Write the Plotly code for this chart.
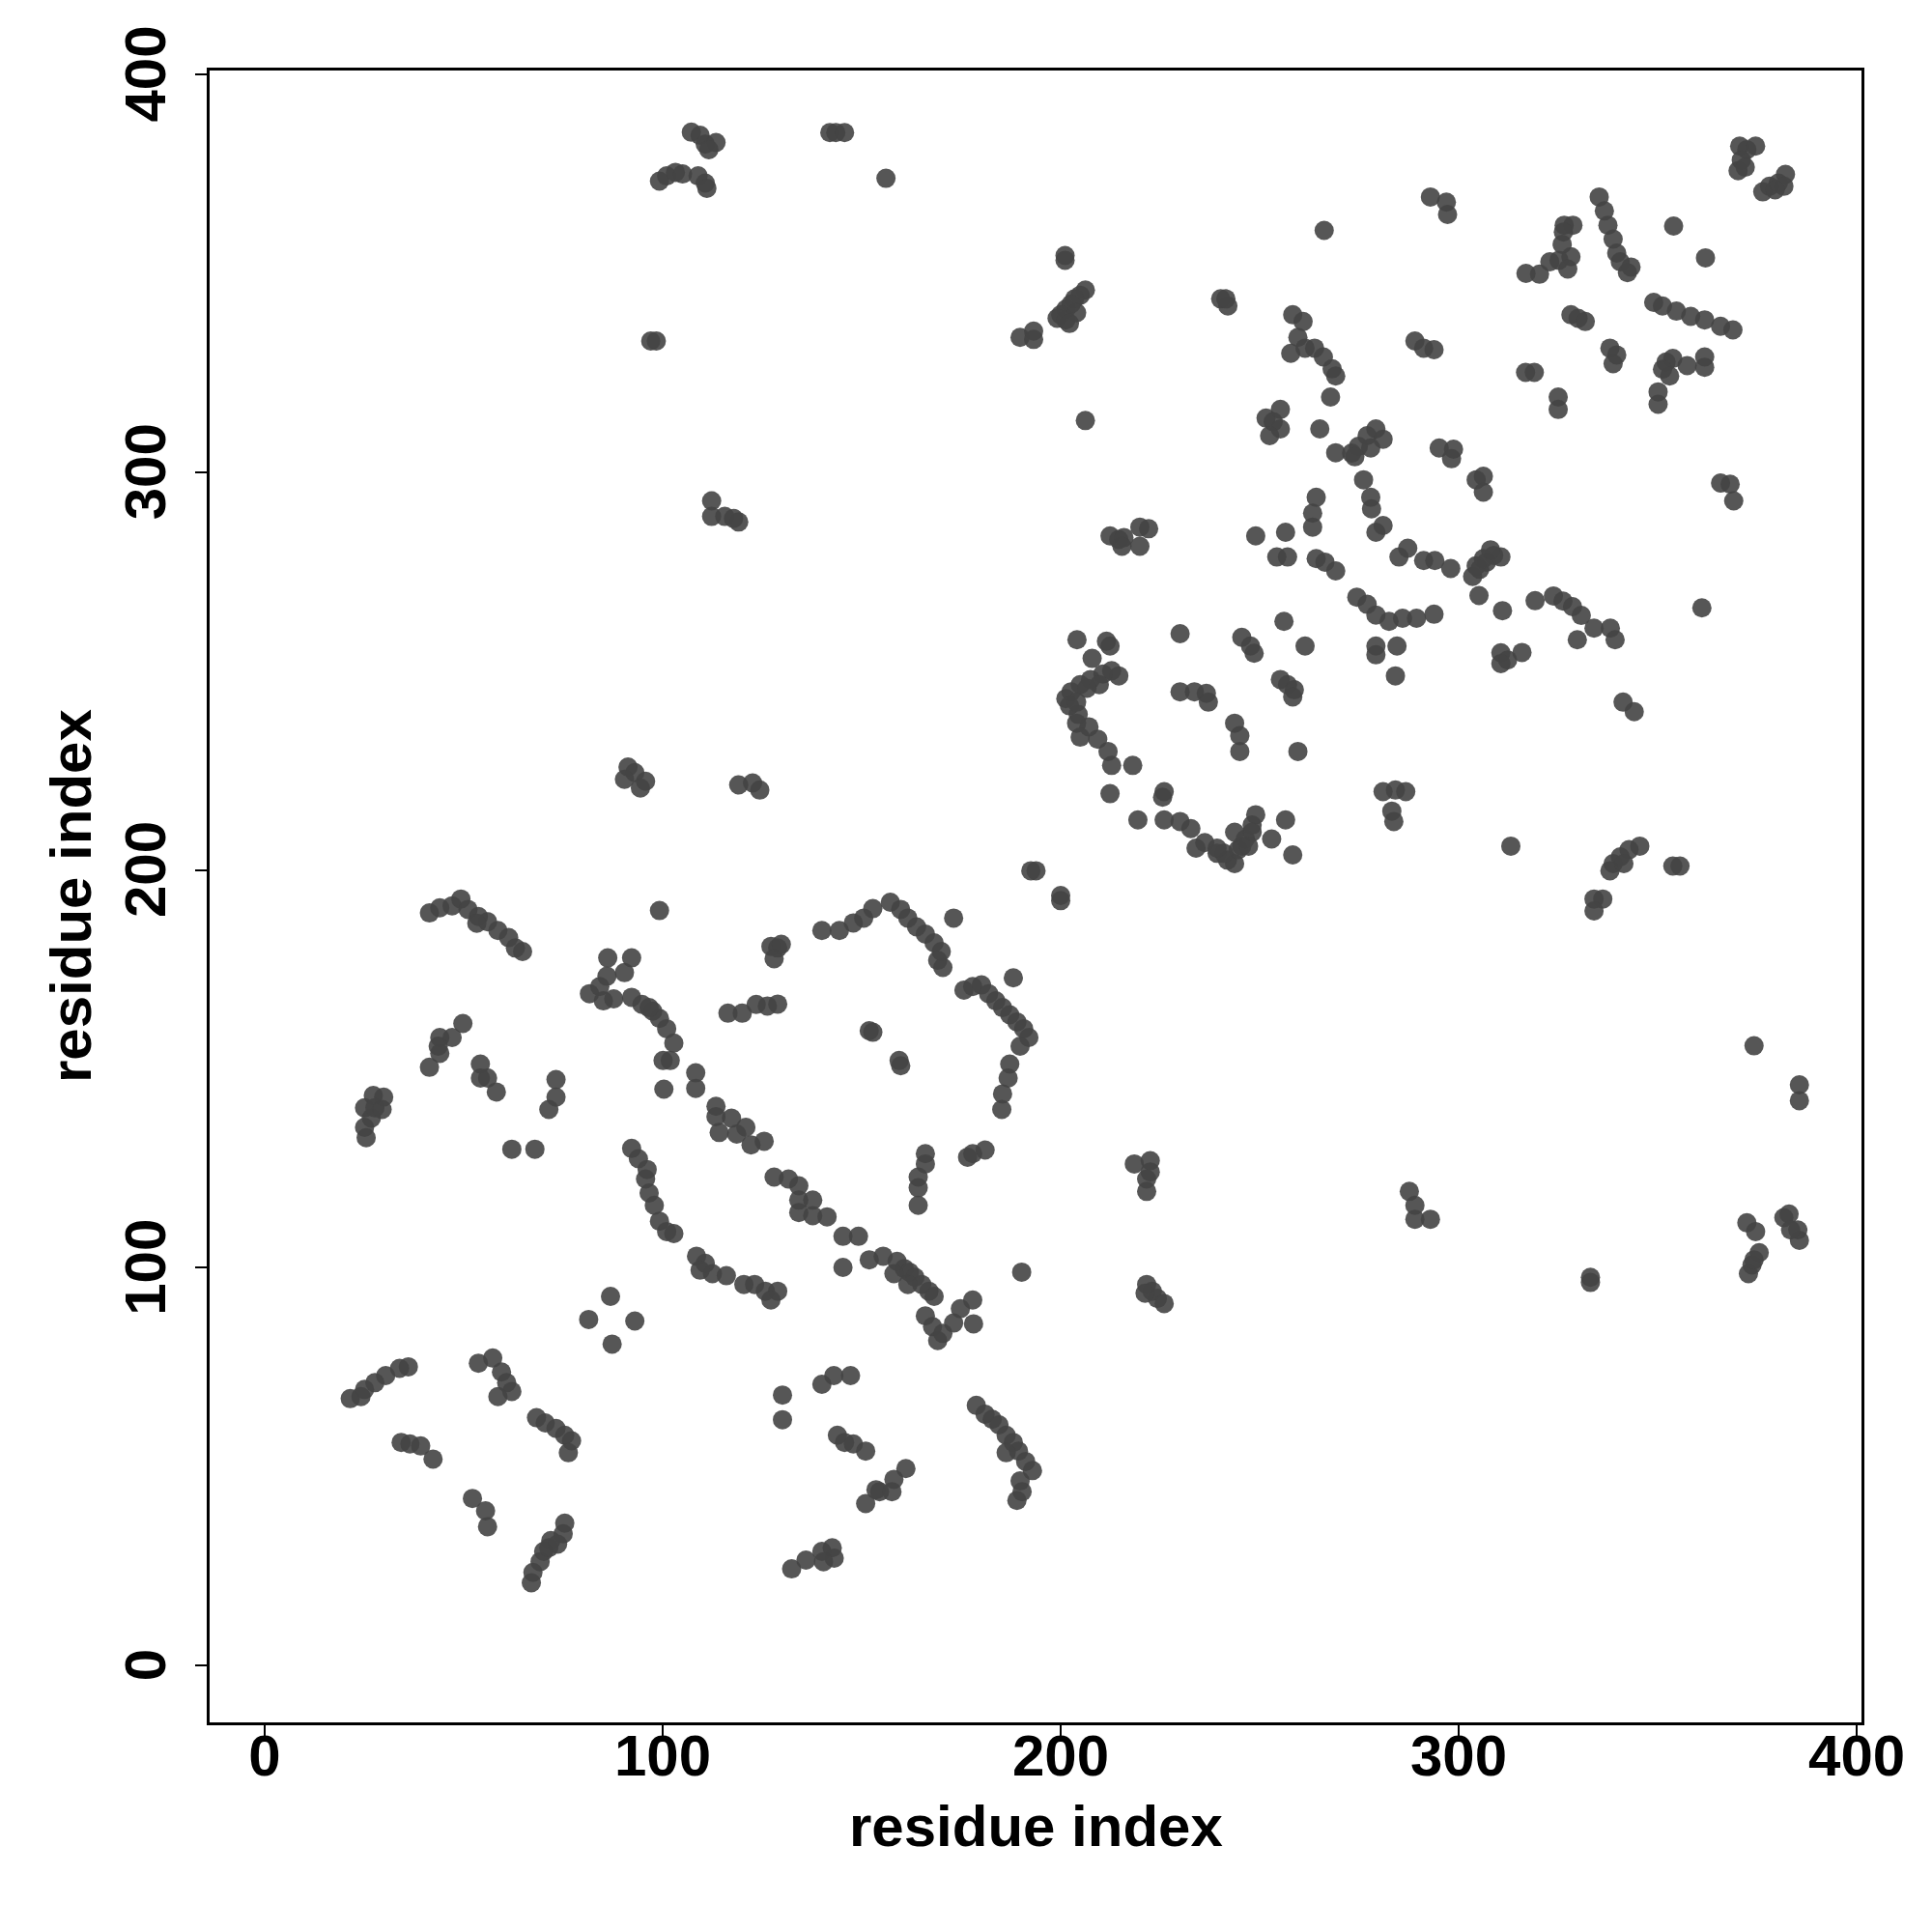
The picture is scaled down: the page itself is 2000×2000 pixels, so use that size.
import plotly.graph_objects as go

# residue pairs (i, j)
res_i = [
    107.2,109.4,110.7,113.4,111.6,
    99.2,101.0,103.2,105.0,108.9,110.7,111.1,
    97.0,98.4,
    112.3,112.3,115.6,119.1,117.8,
    142.0,143.5,145.7,
    156.1,
    201.1,201.1,
    206.2,204.9,203.5,202.6,201.3,200.0,199.1,201.3,204.0,202.2,
    189.8,193.2,193.2,
    206.2,
    240.2,242.0,241.5,
    258.3,260.9,259.6,257.8,261.4,263.8,266.0,268.2,269.1,267.8,
    251.6,253.4,255.2,255.2,252.5,
    212.4,214.6,215.9,219.9,222.1,219.9,215.4,
    249.0,
    256.5,254.3,257.0,
    370.6,372.4,374.6,371.0,370.2,372.0,
    376.4,378.1,380.3,382.1,381.7,379.5,
    292.9,296.9,297.2,
    266.2,
    335.3,336.6,337.5,338.8,339.7,340.6,342.4,343.3,
    326.5,328.7,326.3,326.0,328.2,325.2,322.9,320.3,316.9,327.4,
    354.0,
    362.0,
    349.0,351.2,354.7,358.3,361.8,365.8,368.9,
    328.2,330.0,331.8,
    338.0,339.7,338.8,
    352.1,353.8,357.4,361.8,361.8,353.0,351.2,
    350.1,350.1,
    316.8,319.0,
    325.0,325.0,
    365.8,368.2,369.1,
    289.0,291.2,293.8,
    265.1,
    273.1,274.8,277.0,279.2,281.0,277.9,273.9,
    269.1,
    276.1,
    277.9,278.1,
    279.2,281.0,
    264.2,263.3,263.3,
    295.1,298.7,298.2,
    304.4,306.2,306.2,
    285.0,287.2,
    291.2,294.0,298.0,
    303.5,305.3,307.0,308.8,310.6,304.4,306.2,308.0,
    305.1,
    311.0,
    319.2,
    323.8,326.2,328.6,330.8,334.0,338.1,339.3,329.8,
    361.1,
    264.2,266.4,269.1,
    274.4,277.0,279.2,
    282.5,285.9,289.4,293.8,
    91.3,93.0,95.7,94.4,90.4,
    119.1,122.6,124.4,
    41.4,44.0,47.1,49.3,51.1,53.7,56.0,58.6,61.3,64.8,63.0,53.3,
    99.2,
    86.2,92.2,
    81.6,84.2,86.0,87.7,90.4,85.1,
    92.2,94.8,97.5,99.2,101.0,102.8,101.9,100.1,96.6,
    108.3,108.3,
    100.3,
    116.4,120.0,123.5,
    113.4,113.4,117.3,114.2,120.9,122.2,118.6,
    92.2,93.9,96.1,
    49.8,47.1,44.0,44.0,43.6,41.4,
    54.2,56.0,58.2,54.2,
    73.2,73.2,71.4,
    27.3,29.9,25.1,26.8,25.1,25.5,27.7,29.5,
    62.1,67.9,
    204.1,
    212.4,211.5,
    230.0,
    245.5,247.7,248.6,
    256.1,
    261.4,
    255.2,257.0,258.7,258.3,
    230.0,233.6,236.6,237.1,
    243.7,245.0,245.0,
    259.6,
    207.9,212.8,214.6,210.6,207.5,204.9,202.6,201.3,202.2,204.4,204.0,207.1,204.9,209.3,211.9,212.8,218.1,209.7,206.6,204.0,
    212.4,
    225.6,226.0,
    219.4,
    226.0,230.0,232.7,236.2,239.3,241.9,243.7,234.0,
    244.6,246.4,248.1,249.0,248.1,245.5,243.7,
    247.2,241.0,239.3,
    253.0,
    256.5,
    258.3,
    193.8,192.5,200.0,200.0,
    140.0,144.4,147.9,150.5,152.8,157.2,159.8,161.6,163.8,166.0,168.2,170.0,170.4,169.1,
    173.1,
    188.1,
    175.7,177.9,180.1,181.9,183.7,185.4,187.2,189.0,190.7,192.0,189.8,187.2,186.8,185.4,185.2,
    151.9,152.8,
    159.4,159.8,
    128.9,126.3,127.2,128.9,128.0,129.8,
    125.5,
    166.0,166.0,
    177.9,181.0,176.6,
    218.5,222.5,
    279.2,279.2,284.5,
    284.1,
    310.6,312.3,315.9,310.6,
    341.3,344.1,
    281.0,284.1,286.7,283.2,283.7,
    313.1,
    338.8,340.6,342.8,345.5,338.0,341.5,
    353.8,355.6,
    334.0,336.2,334.0,
    374.2,
    385.6,385.6,
    95.7,96.6,97.9,99.2,101.0,102.8,
    108.5,110.7,112.5,116.0,120.4,123.1,109.4,
    86.9,93.0,81.4,87.3,
    21.5,25.1,27.7,30.4,33.9,36.1,24.2,
    53.7,57.3,59.5,60.8,62.1,58.6,
    68.3,70.5,73.2,75.4,77.1,76.3,
    34.3,36.5,39.2,42.3,
    52.2,55.5,56.0,
    75.4,75.0,71.9,70.1,69.2,67.4,67.0,71.4,73.6,
    128.0,131.6,134.2,134.2,137.7,134.2,137.7,141.3,
    145.3,149.2,
    145.3,
    125.8,128.9,127.2,
    164.2,164.2,164.2,
    221.6,221.6,222.5,
    190.2,
    151.9,155.4,158.9,160.7,162.0,163.4,165.1,166.9,168.2,158.1,161.6,
    166.0,167.8,169.1,170.4,173.1,174.8,177.9,178.1,
    221.6,223.0,224.3,226.0,221.2,
    140.0,143.0,147.2,
    130.1,130.1,
    143.9,147.9,151.0,145.7,
    161.1,158.1,154.5,151.0,153.6,157.6,
    132.4,136.0,140.0,142.6,143.1,140.4,
    178.8,181.0,182.8,184.5,186.3,188.1,189.4,191.2,192.9,189.8,190.3,189.0,186.3,
    287.6,289.0,289.0,292.9,
    333.1,333.1,
    372.4,374.6,375.5,373.7,372.8,374.2,
    381.7,383.0,385.2,385.6,383.4,
]

res_j = [
    385.5,384.7,382.5,382.9,381.1,
    373.2,374.5,375.4,375.0,374.5,372.7,371.4,
    333.0,333.0,
    292.8,288.9,288.9,287.5,288.4,
    385.4,385.4,385.4,
    373.9,
    354.5,353.3,
    345.8,344.5,343.6,342.3,341.0,339.6,338.7,338.3,340.1,337.4,
    333.9,335.5,333.4,
    313.0,
    343.6,341.8,343.6,
    339.6,337.9,333.9,329.9,331.2,331.2,329.0,326.0,324.2,318.9,
    313.6,312.7,315.8,310.9,309.2,
    284.0,283.1,283.6,286.2,285.8,281.4,281.4,
    284.0,
    284.9,278.7,278.7,
    382.0,381.1,382.0,378.5,375.8,376.7,
    370.5,371.9,372.7,374.9,371.9,371.0,
    369.2,367.9,364.8,
    360.8,
    369.2,365.7,362.1,358.6,355.1,352.9,350.2,351.6,
    362.1,362.1,360.4,357.3,354.2,353.3,352.9,349.8,350.0,351.1,
    361.9,
    353.9,
    342.7,341.8,340.5,339.2,338.3,336.7,335.8,
    339.6,338.7,337.9,
    331.2,329.5,327.3,
    327.7,328.6,326.8,329.0,326.4,324.2,325.9,
    320.2,317.1,
    325.1,325.1,
    318.9,315.8,
    297.3,297.0,292.8,
    333.0,331.2,330.8,
    310.9,
    304.8,306.5,309.2,310.9,308.3,306.1,303.9,
    304.9,
    298.1,
    293.7,290.8,
    284.9,286.6,
    293.7,289.7,286.2,
    306.1,305.8,303.4,
    298.1,299.0,295.0,
    278.7,280.9,
    277.8,277.8,275.8,
    273.8,275.6,277.4,279.1,278.7,276.5,278.3,280.5,
    269.0,
    265.2,
    267.7,
    268.9,267.6,266.2,264.0,260.8,260.8,257.9,257.9,
    265.9,
    278.3,277.4,275.2,
    268.6,266.8,264.1,
    262.5,263.3,263.3,264.3,
    225.9,224.5,222.3,220.6,222.8,
    221.4,221.9,220.1,
    189.2,190.5,191.0,192.7,190.1,188.3,187.0,184.8,183.0,179.5,180.4,186.6,
    189.8,
    177.9,177.9,
    168.9,170.7,173.3,167.6,174.2,167.1,
    168.0,166.2,164.5,162.7,160.1,156.5,152.1,152.1,165.4,
    149.0,145.1,
    144.9,
    164.0,164.0,166.2,
    140.6,138.0,137.6,134.0,135.3,130.9,133.6,
    130.0,127.4,124.7,
    161.4,157.9,157.9,153.9,155.7,150.4,
    151.2,147.7,144.2,147.7,
    147.3,142.9,139.8,
    143.3,142.9,140.2,137.6,135.3,132.7,140.2,139.8,
    129.8,129.8,
    257.9,
    256.3,257.5,
    259.4,
    258.5,256.3,254.5,
    262.5,
    256.3,
    247.9,246.6,245.3,243.5,
    244.8,244.8,244.4,242.2,
    236.9,233.8,229.8,
    229.8,
    253.2,250.1,248.8,249.3,247.9,246.6,244.8,243.1,241.3,239.1,236.9,236.0,233.4,232.9,229.8,226.3,226.3,246.6,245.7,242.2,
    219.2,
    218.3,219.7,
    212.6,
    212.6,212.2,210.4,206.9,204.2,202.5,201.6,205.5,
    205.1,207.8,211.3,213.9,209.5,206.0,209.5,
    206.0,204.2,205.5,
    207.8,
    212.6,
    203.8,
    199.8,199.8,193.6,192.3,
    184.8,184.8,186.7,187.9,190.3,191.9,190.1,187.9,185.7,183.9,181.7,179.5,175.5,177.3,
    187.9,
    172.9,
    169.8,170.7,171.1,168.9,167.1,165.4,163.6,161.8,160.1,157.9,155.7,151.2,147.7,143.7,139.8,
    159.6,159.2,
    152.1,150.8,
    166.3,165.8,180.8,180.4,177.7,181.3,
    131.8,
    128.7,126.1,
    128.7,129.6,127.8,
    126.1,126.9,
    256.3,254.1,256.3,
    248.8,
    254.6,252.8,254.7,251.9,
    242.2,239.8,
    219.7,220.1,219.7,214.8,212.2,
    206.0,
    201.6,203.3,205.1,206.0,199.8,201.6,
    201.0,201.0,
    192.7,192.7,189.7,
    155.8,
    146.0,142.0,
    122.3,118.8,115.7,111.7,109.1,108.6,
    102.9,101.1,98.5,98.0,95.8,95.8,99.4,
    92.8,86.6,87.0,80.8,
    67.1,69.4,71.1,72.9,74.7,75.1,67.6,
    76.0,77.3,73.8,71.1,68.9,67.6,
    62.3,61.0,59.6,57.9,56.5,53.5,
    56.1,55.7,55.2,51.9,
    42.0,38.9,34.9,
    35.8,33.1,31.4,28.7,26.1,23.4,20.8,29.6,30.5,
    122.8,122.3,120.6,117.0,117.0,113.9,113.1,112.8,
    107.9,107.9,
    100.1,
    94.1,94.1,91.9,
    122.8,120.1,115.7,
    122.3,119.2,124.1,
    98.9,
    102.0,102.9,101.6,99.8,98.9,97.6,95.8,94.1,92.8,98.5,95.8,
    87.9,85.2,81.7,83.5,86.1,89.7,91.9,85.9,
    95.8,94.1,92.3,91.0,93.6,
    70.7,72.9,72.9,
    68.0,61.8,
    57.9,55.7,53.9,56.1,
    49.5,46.8,43.7,40.7,44.2,43.7,
    24.3,26.5,28.7,29.6,27.0,26.1,
    65.4,63.2,61.9,60.5,57.9,56.1,53.9,51.3,49.0,46.4,43.7,41.5,53.5,
    119.2,115.7,112.2,112.2,
    97.6,96.3,
    111.3,109.1,103.8,100.7,98.5,102.0,
    112.6,113.5,109.5,106.9,109.5,
]

tick_vals = [0, 100, 200, 300, 400]
tick_text = ["0", "100", "200", "300", "400"]
axis_title = "residue index"

font_family = "Liberation Sans, Arial, sans-serif"

fig = go.Figure()
fig.add_trace(go.Scatter(
    x=res_i, y=res_j, mode="markers",
    marker=dict(size=20, color="#444444", opacity=0.9, line=dict(width=0)),
    showlegend=False, hoverinfo="x+y",
))

axis_common = dict(
    tickmode="array", tickvals=tick_vals,
    ticks="outside", ticklen=12, tickwidth=2, tickcolor="black",
    showline=True, linecolor="black", linewidth=3, mirror=True,
    showgrid=False, zeroline=False,
    tickfont=dict(family=font_family, size=60, color="black", weight="bold"),
)

fig.update_xaxes(range=[-13.83, 401.2], ticktext=tick_text,
                 ticklabelstandoff=-32, **axis_common)
# a trailing no-break space nudges the rotated labels down onto their ticks
fig.update_yaxes(range=[-14.3, 401.0], ticktext=[t + "\u00a0" for t in tick_text],
                 tickangle=-90, ticklabelstandoff=7, **axis_common)

fig.update_layout(
    width=2000, height=2000,
    margin=dict(l=209, r=81, t=65, b=225, autoexpand=False),
    paper_bgcolor="white", plot_bgcolor="white",
    annotations=[
        dict(text=axis_title, xref="paper", yref="paper", x=0.5, y=0,
             xanchor="center", yanchor="middle", yshift=-107, showarrow=False,
             font=dict(family=font_family, size=60, color="black", weight="bold")),
        dict(text=axis_title, xref="paper", yref="paper", x=0, y=0.5,
             xanchor="center", yanchor="middle", xshift=-144, textangle=-90,
             showarrow=False,
             font=dict(family=font_family, size=60, color="black", weight="bold")),
    ],
)

fig.write_html("out.html")
